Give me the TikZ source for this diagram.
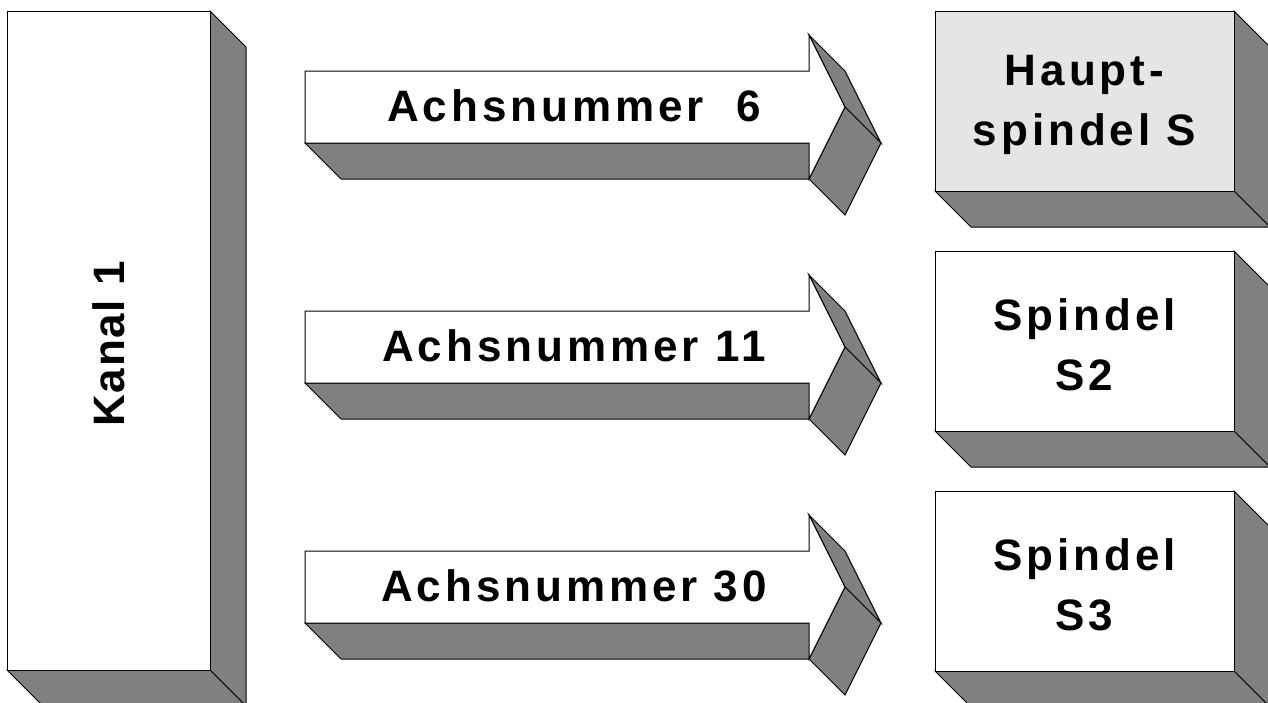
\documentclass[tikz,border=0pt]{standalone}
\usepackage{fontspec}
\setmainfont{Liberation Sans}
\tikzset{
  sideface/.style={draw=black, line width=1pt, line join=miter, fill=gray},
  frontface/.style={draw=black, line width=1pt, line join=miter},
  bigtext/.style={font=\fontsize{44}{60}\selectfont\bfseries\addfontfeatures{LetterSpace=9}, align=center, inner sep=0pt},
  kanaltext/.style={font=\fontsize{44}{50}\selectfont\bfseries\addfontfeatures{LetterSpace=4}, inner sep=0pt, rotate=90},
}
\begin{document}
\begin{tikzpicture}[x=1pt, y=-1pt]
    \useasboundingbox (0,0) rectangle (1268,702);
    \clip (0,0) rectangle (1268,702);

    % channel block
    \draw[sideface] (210,11) -- (246,47) -- (246,706) -- (210,670) -- cycle;
    \draw[sideface] (7,670) -- (210,670) -- (246,706) -- (43,706) -- cycle;
    \draw[frontface, fill=white] (7,11) rectangle (210,670);
    \node[kanaltext] (kanal) at (108.5,344) {Kanal 1};

    % arrows (body 305..809, head to 845)
    \foreach \cy/\nm/\txt in {107/achsa/{Achsnummer\ \ 6}, 347/achsb/{Achsnummer 11}, 587/achsc/{Achsnummer 30}} {
        \draw[sideface] (305,{\cy+36}) -- (809,{\cy+36}) -- (845,{\cy+72}) -- (341,{\cy+72}) -- cycle;
        \draw[sideface] (809,{\cy-72}) -- (845,{\cy-36}) -- (881,{\cy+36}) -- (845,\cy) -- cycle;
        \draw[sideface] (845,\cy) -- (881,{\cy+36}) -- (845,{\cy+108}) -- (809,{\cy+72}) -- cycle;
        \draw[frontface, fill=white] (305,{\cy-36}) -- (809,{\cy-36}) -- (809,{\cy-72})
            -- (845,\cy) -- (809,{\cy+72}) -- (809,{\cy+36}) -- (305,{\cy+36}) -- cycle;
        \node[bigtext] (\nm) at (574,{\cy-1}) {\txt};
    }

    % spindle blocks
    \foreach \yt/\col/\nm/\txt in {11/gray!20/haupt/{Haupt-\\spindel S}, 251/white/spinb/{Spindel\\S2}, 491/white/spinc/{Spindel\\S3}} {
        \draw[sideface] (1234,\yt) -- (1270,{\yt+36}) -- (1270,{\yt+216}) -- (1234,{\yt+180}) -- cycle;
        \draw[sideface] (935,{\yt+180}) -- (1234,{\yt+180}) -- (1270,{\yt+216}) -- (971,{\yt+216}) -- cycle;
        \draw[frontface, fill=\col] (935,\yt) rectangle (1234,{\yt+180});
        \node[bigtext] (\nm) at (1084.5,{\yt+94}) {\txt};
    }
\end{tikzpicture}
\end{document}
